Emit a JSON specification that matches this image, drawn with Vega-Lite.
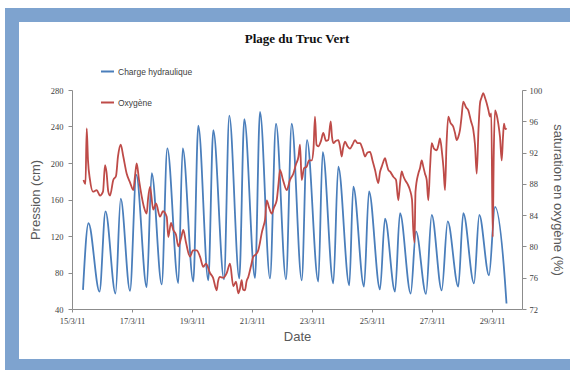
{
  "$schema": "https://vega.github.io/schema/vega-lite/v6.json",
  "width": 450,
  "height": 219,
  "autosize": {"type": "none"},
  "padding": {"left": 72, "top": 90, "right": 48, "bottom": 61},
  "background": "white",
  "title": {"text": "Plage du Truc Vert", "font": "Liberation Serif", "fontSize": 13, "fontWeight": "bold", "color": "#111111", "anchor": "middle", "offset": -38},
  "datasets": {
    "charge": [
      {"date": "2011-03-15T08:48", "charge": 61}, {"date": "2011-03-15T13:12", "charge": 134}, {"date": "2011-03-15T22:00", "charge": 59},
      {"date": "2011-03-16T02:48", "charge": 147}, {"date": "2011-03-16T10:48", "charge": 57}, {"date": "2011-03-16T14:58", "charge": 161},
      {"date": "2011-03-16T22:24", "charge": 60}, {"date": "2011-03-17T03:26", "charge": 187}, {"date": "2011-03-17T11:46", "charge": 64},
      {"date": "2011-03-17T15:46", "charge": 189}, {"date": "2011-03-17T23:46", "charge": 67}, {"date": "2011-03-18T04:14", "charge": 216},
      {"date": "2011-03-18T13:02", "charge": 68.5}, {"date": "2011-03-18T16:34", "charge": 216}, {"date": "2011-03-19T01:02", "charge": 70},
      {"date": "2011-03-19T05:02", "charge": 241}, {"date": "2011-03-19T13:02", "charge": 71.5}, {"date": "2011-03-19T17:02", "charge": 236},
      {"date": "2011-03-20T01:36", "charge": 72.5}, {"date": "2011-03-20T05:50", "charge": 252}, {"date": "2011-03-20T13:50", "charge": 73.5},
      {"date": "2011-03-20T17:50", "charge": 248}, {"date": "2011-03-21T02:24", "charge": 74}, {"date": "2011-03-21T06:24", "charge": 256},
      {"date": "2011-03-21T14:24", "charge": 73.5}, {"date": "2011-03-21T19:12", "charge": 243}, {"date": "2011-03-22T03:12", "charge": 72.5},
      {"date": "2011-03-22T07:46", "charge": 243}, {"date": "2011-03-22T15:46", "charge": 71.5}, {"date": "2011-03-22T20:00", "charge": 225},
      {"date": "2011-03-23T05:02", "charge": 70}, {"date": "2011-03-23T08:34", "charge": 212}, {"date": "2011-03-23T17:02", "charge": 68},
      {"date": "2011-03-23T21:02", "charge": 196}, {"date": "2011-03-24T05:50", "charge": 66}, {"date": "2011-03-24T09:02", "charge": 174},
      {"date": "2011-03-24T17:36", "charge": 64.5}, {"date": "2011-03-24T21:36", "charge": 169}, {"date": "2011-03-25T06:24", "charge": 61.5},
      {"date": "2011-03-25T10:24", "charge": 139}, {"date": "2011-03-25T18:24", "charge": 59}, {"date": "2011-03-25T22:24", "charge": 145},
      {"date": "2011-03-26T06:58", "charge": 57}, {"date": "2011-03-26T11:12", "charge": 125}, {"date": "2011-03-26T19:12", "charge": 56.5},
      {"date": "2011-03-26T23:46", "charge": 143}, {"date": "2011-03-27T07:46", "charge": 60.5}, {"date": "2011-03-27T12:34", "charge": 136},
      {"date": "2011-03-27T21:02", "charge": 64.5}, {"date": "2011-03-28T01:02", "charge": 145}, {"date": "2011-03-28T09:36", "charge": 68},
      {"date": "2011-03-28T13:50", "charge": 143}, {"date": "2011-03-28T21:36", "charge": 77}, {"date": "2011-03-29T02:24", "charge": 152},
      {"date": "2011-03-29T10:24", "charge": 70}, {"date": "2011-03-29T11:36", "charge": 46}
    ],
    "oxygene": [
      {"date": "2011-03-15T09:12", "oxygene": 88.5}, {"date": "2011-03-15T10:48", "oxygene": 88}, {"date": "2011-03-15T11:46", "oxygene": 95.1},
      {"date": "2011-03-15T12:48", "oxygene": 91}, {"date": "2011-03-15T14:24", "oxygene": 88.5}, {"date": "2011-03-15T16:48", "oxygene": 87},
      {"date": "2011-03-15T19:46", "oxygene": 87.2}, {"date": "2011-03-15T22:24", "oxygene": 86.5}, {"date": "2011-03-16T00:48", "oxygene": 87},
      {"date": "2011-03-16T02:24", "oxygene": 90.4}, {"date": "2011-03-16T03:36", "oxygene": 89.5}, {"date": "2011-03-16T05:02", "oxygene": 87},
      {"date": "2011-03-16T06:24", "oxygene": 86.5}, {"date": "2011-03-16T09:02", "oxygene": 88.5}, {"date": "2011-03-16T11:12", "oxygene": 89},
      {"date": "2011-03-16T12:48", "oxygene": 91.5}, {"date": "2011-03-16T14:58", "oxygene": 93}, {"date": "2011-03-16T17:02", "oxygene": 91.5},
      {"date": "2011-03-16T19:46", "oxygene": 89.3}, {"date": "2011-03-16T22:24", "oxygene": 88.2}, {"date": "2011-03-17T01:02", "oxygene": 87.2},
      {"date": "2011-03-17T02:24", "oxygene": 89}, {"date": "2011-03-17T03:46", "oxygene": 90.6}, {"date": "2011-03-17T05:36", "oxygene": 88.5},
      {"date": "2011-03-17T07:46", "oxygene": 86.4}, {"date": "2011-03-17T09:36", "oxygene": 85}, {"date": "2011-03-17T11:46", "oxygene": 84.2},
      {"date": "2011-03-17T12:48", "oxygene": 86}, {"date": "2011-03-17T14:24", "oxygene": 87.6}, {"date": "2011-03-17T17:02", "oxygene": 84.7},
      {"date": "2011-03-17T19:12", "oxygene": 85.5}, {"date": "2011-03-17T22:24", "oxygene": 83.8}, {"date": "2011-03-18T00:48", "oxygene": 84.5},
      {"date": "2011-03-18T03:46", "oxygene": 83.8}, {"date": "2011-03-18T05:02", "oxygene": 81.2}, {"date": "2011-03-18T07:12", "oxygene": 83},
      {"date": "2011-03-18T09:02", "oxygene": 82.1}, {"date": "2011-03-18T11:12", "oxygene": 81.5}, {"date": "2011-03-18T13:02", "oxygene": 80},
      {"date": "2011-03-18T15:12", "oxygene": 81}, {"date": "2011-03-18T17:02", "oxygene": 82.1}, {"date": "2011-03-18T19:12", "oxygene": 80.5},
      {"date": "2011-03-18T22:24", "oxygene": 78.7}, {"date": "2011-03-19T00:48", "oxygene": 79.5}, {"date": "2011-03-19T03:46", "oxygene": 79.5},
      {"date": "2011-03-19T06:24", "oxygene": 78.7}, {"date": "2011-03-19T09:02", "oxygene": 77.4}, {"date": "2011-03-19T11:12", "oxygene": 77.8},
      {"date": "2011-03-19T14:24", "oxygene": 76.6}, {"date": "2011-03-19T16:48", "oxygene": 76}, {"date": "2011-03-19T19:46", "oxygene": 74.4},
      {"date": "2011-03-19T20:48", "oxygene": 75.5}, {"date": "2011-03-19T22:24", "oxygene": 76.1}, {"date": "2011-03-20T00:48", "oxygene": 76},
      {"date": "2011-03-20T03:46", "oxygene": 76.6}, {"date": "2011-03-20T06:24", "oxygene": 77.8}, {"date": "2011-03-20T09:02", "oxygene": 74.9},
      {"date": "2011-03-20T11:12", "oxygene": 75.5}, {"date": "2011-03-20T13:02", "oxygene": 74}, {"date": "2011-03-20T14:24", "oxygene": 74.6},
      {"date": "2011-03-20T15:46", "oxygene": 75.7}, {"date": "2011-03-20T16:48", "oxygene": 74.5}, {"date": "2011-03-20T18:24", "oxygene": 74.4},
      {"date": "2011-03-20T19:36", "oxygene": 75.5}, {"date": "2011-03-20T21:02", "oxygene": 76.1}, {"date": "2011-03-20T23:12", "oxygene": 77.5},
      {"date": "2011-03-21T01:02", "oxygene": 78.7}, {"date": "2011-03-21T03:12", "oxygene": 79}, {"date": "2011-03-21T05:02", "oxygene": 79.5},
      {"date": "2011-03-21T06:24", "oxygene": 80.5}, {"date": "2011-03-21T07:46", "oxygene": 81.7}, {"date": "2011-03-21T09:02", "oxygene": 82.5},
      {"date": "2011-03-21T10:24", "oxygene": 83.4}, {"date": "2011-03-21T11:46", "oxygene": 85.9}, {"date": "2011-03-21T13:36", "oxygene": 85},
      {"date": "2011-03-21T15:46", "oxygene": 84.2}, {"date": "2011-03-21T17:36", "oxygene": 85}, {"date": "2011-03-21T19:46", "oxygene": 85.9},
      {"date": "2011-03-21T21:12", "oxygene": 88}, {"date": "2011-03-21T22:24", "oxygene": 89.8}, {"date": "2011-03-22T00:48", "oxygene": 88.5},
      {"date": "2011-03-22T03:46", "oxygene": 87.2}, {"date": "2011-03-22T06:24", "oxygene": 88.5}, {"date": "2011-03-22T09:02", "oxygene": 89.3},
      {"date": "2011-03-22T11:12", "oxygene": 90.5}, {"date": "2011-03-22T13:12", "oxygene": 91.5}, {"date": "2011-03-22T14:24", "oxygene": 93},
      {"date": "2011-03-22T15:46", "oxygene": 88.5}, {"date": "2011-03-22T17:36", "oxygene": 90}, {"date": "2011-03-22T19:46", "oxygene": 90.2},
      {"date": "2011-03-22T21:36", "oxygene": 91}, {"date": "2011-03-22T23:46", "oxygene": 91}, {"date": "2011-03-23T01:12", "oxygene": 92.5},
      {"date": "2011-03-23T02:24", "oxygene": 96.6}, {"date": "2011-03-23T03:36", "oxygene": 93}, {"date": "2011-03-23T05:02", "oxygene": 92.8},
      {"date": "2011-03-23T07:12", "oxygene": 93.5}, {"date": "2011-03-23T09:02", "oxygene": 94.5}, {"date": "2011-03-23T11:12", "oxygene": 93.5},
      {"date": "2011-03-23T13:02", "oxygene": 93.6}, {"date": "2011-03-23T14:58", "oxygene": 96}, {"date": "2011-03-23T16:00", "oxygene": 94},
      {"date": "2011-03-23T17:02", "oxygene": 93.2}, {"date": "2011-03-23T19:12", "oxygene": 93.5}, {"date": "2011-03-23T21:02", "oxygene": 93.6},
      {"date": "2011-03-23T22:24", "oxygene": 92.8}, {"date": "2011-03-23T23:46", "oxygene": 91.5}, {"date": "2011-03-24T00:48", "oxygene": 92.5},
      {"date": "2011-03-24T02:24", "oxygene": 93.4}, {"date": "2011-03-24T04:24", "oxygene": 92.8}, {"date": "2011-03-24T06:24", "oxygene": 92.5},
      {"date": "2011-03-24T08:24", "oxygene": 93}, {"date": "2011-03-24T10:24", "oxygene": 93.6}, {"date": "2011-03-24T12:24", "oxygene": 93.2},
      {"date": "2011-03-24T14:24", "oxygene": 93.2}, {"date": "2011-03-24T16:24", "oxygene": 92.5}, {"date": "2011-03-24T18:24", "oxygene": 91.5},
      {"date": "2011-03-24T20:24", "oxygene": 92}, {"date": "2011-03-24T22:24", "oxygene": 92.1}, {"date": "2011-03-25T00:24", "oxygene": 91},
      {"date": "2011-03-25T02:24", "oxygene": 89.8}, {"date": "2011-03-25T05:02", "oxygene": 88.1}, {"date": "2011-03-25T06:24", "oxygene": 89.5},
      {"date": "2011-03-25T07:46", "oxygene": 90.2}, {"date": "2011-03-25T09:02", "oxygene": 90.8}, {"date": "2011-03-25T10:24", "oxygene": 91.3},
      {"date": "2011-03-25T11:46", "oxygene": 90.5}, {"date": "2011-03-25T13:02", "oxygene": 89.8}, {"date": "2011-03-25T14:48", "oxygene": 89.5},
      {"date": "2011-03-25T17:02", "oxygene": 88.9}, {"date": "2011-03-25T19:12", "oxygene": 88.5}, {"date": "2011-03-25T21:02", "oxygene": 85.9},
      {"date": "2011-03-25T22:24", "oxygene": 88}, {"date": "2011-03-25T23:46", "oxygene": 89.6}, {"date": "2011-03-26T01:02", "oxygene": 89},
      {"date": "2011-03-26T02:24", "oxygene": 88.5}, {"date": "2011-03-26T04:24", "oxygene": 88}, {"date": "2011-03-26T06:24", "oxygene": 87.2},
      {"date": "2011-03-26T08:00", "oxygene": 86}, {"date": "2011-03-26T09:02", "oxygene": 82.1}, {"date": "2011-03-26T10:00", "oxygene": 80.5},
      {"date": "2011-03-26T10:48", "oxygene": 87}, {"date": "2011-03-26T13:02", "oxygene": 89.3}, {"date": "2011-03-26T14:24", "oxygene": 90},
      {"date": "2011-03-26T15:46", "oxygene": 91}, {"date": "2011-03-26T17:02", "oxygene": 90.2}, {"date": "2011-03-26T18:24", "oxygene": 89.3},
      {"date": "2011-03-26T19:46", "oxygene": 88.5}, {"date": "2011-03-26T21:02", "oxygene": 85.9}, {"date": "2011-03-26T22:24", "oxygene": 90},
      {"date": "2011-03-26T23:46", "oxygene": 93.2}, {"date": "2011-03-27T01:36", "oxygene": 92.5}, {"date": "2011-03-27T03:46", "oxygene": 92.3},
      {"date": "2011-03-27T05:12", "oxygene": 93}, {"date": "2011-03-27T06:24", "oxygene": 93.8}, {"date": "2011-03-27T08:00", "oxygene": 92},
      {"date": "2011-03-27T09:12", "oxygene": 90}, {"date": "2011-03-27T10:24", "oxygene": 87.2}, {"date": "2011-03-27T11:36", "oxygene": 93},
      {"date": "2011-03-27T13:02", "oxygene": 96.6}, {"date": "2011-03-27T14:48", "oxygene": 95.8}, {"date": "2011-03-27T17:02", "oxygene": 95.3},
      {"date": "2011-03-27T18:24", "oxygene": 94.5}, {"date": "2011-03-27T19:46", "oxygene": 93.6}, {"date": "2011-03-27T21:02", "oxygene": 94},
      {"date": "2011-03-27T22:24", "oxygene": 94.9}, {"date": "2011-03-27T23:36", "oxygene": 96.5}, {"date": "2011-03-28T01:02", "oxygene": 98.5},
      {"date": "2011-03-28T03:12", "oxygene": 97.8}, {"date": "2011-03-28T05:02", "oxygene": 97.4}, {"date": "2011-03-28T07:12", "oxygene": 96},
      {"date": "2011-03-28T09:02", "oxygene": 94.9}, {"date": "2011-03-28T10:24", "oxygene": 93}, {"date": "2011-03-28T11:46", "oxygene": 89.3},
      {"date": "2011-03-28T13:12", "oxygene": 95}, {"date": "2011-03-28T14:24", "oxygene": 98.3}, {"date": "2011-03-28T15:36", "oxygene": 99},
      {"date": "2011-03-28T17:02", "oxygene": 99.6}, {"date": "2011-03-28T18:24", "oxygene": 99}, {"date": "2011-03-28T19:46", "oxygene": 98.3},
      {"date": "2011-03-28T21:02", "oxygene": 97.5}, {"date": "2011-03-28T22:24", "oxygene": 96.6}, {"date": "2011-03-28T23:26", "oxygene": 97},
      {"date": "2011-03-29T00:34", "oxygene": 81.2}, {"date": "2011-03-29T01:26", "oxygene": 92}, {"date": "2011-03-29T02:24", "oxygene": 97.4},
      {"date": "2011-03-29T03:46", "oxygene": 96.8}, {"date": "2011-03-29T05:02", "oxygene": 95.7}, {"date": "2011-03-29T06:24", "oxygene": 94},
      {"date": "2011-03-29T07:46", "oxygene": 91}, {"date": "2011-03-29T08:48", "oxygene": 94}, {"date": "2011-03-29T09:36", "oxygene": 95.7},
      {"date": "2011-03-29T10:38", "oxygene": 95}, {"date": "2011-03-29T11:46", "oxygene": 95.1}
    ]
  },
  "resolve": {"scale": {"y": "independent"}},
  "layer": [
    {
      "layer": [
        {
          "data": {"values": [{}]},
          "mark": {"type": "rect", "color": "#7ea3cf", "clip": false},
          "encoding": {
            "x": {
              "datum": {"year": 2011, "month": 3, "date": 12, "hours": 18, "minutes": 24}, "type": "temporal", "title": "Date",
              "axis": {
                "values": ["2011-03-15T00:00", "2011-03-17T00:00", "2011-03-19T00:00", "2011-03-21T00:00", "2011-03-23T00:00", "2011-03-25T00:00", "2011-03-27T00:00", "2011-03-29T00:00"],
                "format": "%-d/%-m/%y", "labelOverlap": false, "labelFlush": false, "labelPadding": 4, "titlePadding": 6, "tickSize": 3, "zindex": 1
              }
            },
            "x2": {"datum": {"year": 2011, "month": 4, "date": 2}},
            "y": {
              "datum": 370, "type": "quantitative", "title": "Pression (cm)",
              "axis": {"values": [40, 80, 120, 160, 200, 240, 280], "labelPadding": 5, "titlePadding": 8, "zindex": 1, "labelOverlap": false}
            },
            "y2": {"datum": -60}
          }
        },
        {
          "data": {"values": [{}]},
          "mark": {"type": "rect", "color": "white", "clip": false},
          "encoding": {
            "x": {
              "datum": {"year": 2011, "month": 3, "date": 13, "hours": 5, "minutes": 36}, "type": "temporal", "title": "Date",
              "axis": {
                "values": ["2011-03-15T00:00", "2011-03-17T00:00", "2011-03-19T00:00", "2011-03-21T00:00", "2011-03-23T00:00", "2011-03-25T00:00", "2011-03-27T00:00", "2011-03-29T00:00"],
                "format": "%-d/%-m/%y", "labelOverlap": false, "labelFlush": false, "labelPadding": 4, "titlePadding": 6, "tickSize": 3, "zindex": 1
              }
            },
            "x2": {"datum": {"year": 2011, "month": 4, "date": 2}},
            "y": {
              "datum": 354.5, "type": "quantitative", "title": "Pression (cm)",
              "axis": {"values": [40, 80, 120, 160, 200, 240, 280], "labelPadding": 5, "titlePadding": 8, "zindex": 1, "labelOverlap": false}
            },
            "y2": {"datum": -14.8}
          }
        },
        {
          "data": {"name": "charge"},
          "mark": {"type": "line", "strokeWidth": 1.8, "interpolate": "monotone"},
          "encoding": {
            "x": {
              "field": "date", "type": "temporal", "title": "Date",
              "scale": {"domain": ["2011-03-15T00:00", "2011-03-30T00:00"]},
              "axis": {
                "values": ["2011-03-15T00:00", "2011-03-17T00:00", "2011-03-19T00:00", "2011-03-21T00:00", "2011-03-23T00:00", "2011-03-25T00:00", "2011-03-27T00:00", "2011-03-29T00:00"],
                "format": "%-d/%-m/%y", "labelOverlap": false, "labelFlush": false, "labelPadding": 4, "titlePadding": 6, "tickSize": 3, "zindex": 1
              }
            },
            "y": {
              "field": "charge", "type": "quantitative", "title": "Pression (cm)",
              "scale": {"domain": [40, 280], "zero": false, "nice": false},
              "axis": {"values": [40, 80, 120, 160, 200, 240, 280], "labelPadding": 5, "titlePadding": 8, "zindex": 1, "labelOverlap": false}
            },
            "color": {
              "datum": "Charge hydraulique", "type": "nominal",
              "scale": {"domain": ["Charge hydraulique", "Oxygène"], "range": ["#4a7ebb", "#be4b48"]},
              "legend": {
                "orient": "none", "legendX": 28, "legendY": -26, "title": null, "direction": "vertical",
                "symbolType": "stroke", "symbolSize": 169, "symbolStrokeWidth": 2,
                "labelFont": "Liberation Sans", "labelFontSize": 8.5, "labelColor": "#404040",
                "rowPadding": 19, "labelOffset": 3, "zindex": 1
              }
            }
          }
        }
      ]
    },
    {
      "data": {"name": "oxygene"},
      "mark": {"type": "line", "strokeWidth": 1.8, "interpolate": "monotone"},
      "encoding": {
        "x": {"field": "date", "type": "temporal", "title": "Date"},
        "y": {
          "field": "oxygene", "type": "quantitative", "title": "saturation en oxygène (%)",
          "scale": {"domain": [72, 100], "zero": false, "nice": false},
          "axis": {"orient": "right", "values": [72, 76, 80, 84, 88, 92, 96, 100], "labelPadding": 3, "titlePadding": 9, "zindex": 1, "labelOverlap": false}
        },
        "color": {"datum": "Oxygène", "type": "nominal"}
      }
    }
  ],
  "config": {
    "view": {"stroke": null},
    "axis": {
      "grid": false, "domainColor": "#8c8c8c", "tickColor": "#8c8c8c", "tickSize": 4,
      "labelFont": "Liberation Serif", "labelFontSize": 8.5, "labelColor": "#404040",
      "titleFont": "Liberation Sans", "titleFontSize": 13, "titleFontWeight": "normal", "titleColor": "#595959"
    }
  }
}
